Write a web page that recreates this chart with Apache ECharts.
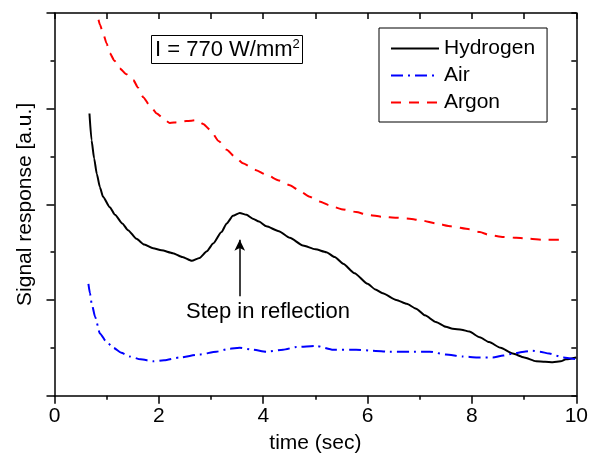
<!DOCTYPE html>
<html style="height: 100%">
<head>
    <meta charset="utf-8">
    <title>Signal response</title>
    <script src="https://cdn.jsdelivr.net/npm/echarts@6/dist/echarts.min.js"></script>
</head>
<body style="height: 100%; margin: 0">
<div id="main" style="width: 591px; height: 459px"></div>

<script type="text/javascript">
    // time (sec) / signal (a.u.) pairs
    var hydrogen = [
        [0.67, 2.95], [0.71, 2.67], [0.76, 2.48], [0.81, 2.32], [0.87, 2.18], [0.93, 2.08],
        [1.06, 1.97], [1.16, 1.89], [1.30, 1.80], [1.41, 1.73], [1.57, 1.64], [1.72, 1.58],
        [1.89, 1.54], [2.05, 1.52], [2.27, 1.49], [2.45, 1.45], [2.63, 1.41], [2.78, 1.44],
        [2.92, 1.51], [3.04, 1.59], [3.20, 1.71], [3.30, 1.80], [3.42, 1.88], [3.55, 1.91],
        [3.68, 1.89], [3.80, 1.85], [3.92, 1.82], [4.06, 1.77], [4.30, 1.72], [4.51, 1.65],
        [4.76, 1.57], [5.00, 1.53], [5.21, 1.50], [5.37, 1.45], [5.53, 1.38], [5.75, 1.28],
        [6.00, 1.17], [6.15, 1.11], [6.29, 1.07], [6.55, 1.00], [6.75, 0.96], [6.93, 0.91],
        [7.10, 0.84], [7.31, 0.77], [7.50, 0.72], [7.63, 0.70], [7.80, 0.69], [7.95, 0.67],
        [8.15, 0.61], [8.33, 0.56], [8.55, 0.50], [8.78, 0.44], [9.00, 0.40], [9.23, 0.36],
        [9.40, 0.355], [9.55, 0.35], [9.70, 0.36], [9.80, 0.38], [10.0, 0.40]
    ];
    var air = [
        [0.65, 1.17], [0.68, 1.07], [0.71, 0.97], [0.78, 0.82], [0.87, 0.65], [1.00, 0.56],
        [1.13, 0.50], [1.28, 0.45], [1.44, 0.41], [1.65, 0.38], [1.89, 0.36], [2.10, 0.37],
        [2.40, 0.40], [2.78, 0.43], [3.10, 0.46], [3.35, 0.49], [3.55, 0.50], [3.80, 0.48],
        [4.06, 0.46], [4.38, 0.48], [4.64, 0.51], [5.02, 0.52], [5.34, 0.48], [5.78, 0.48],
        [6.10, 0.47], [6.42, 0.46], [6.80, 0.46], [7.19, 0.46], [7.50, 0.43], [7.82, 0.41],
        [8.10, 0.40], [8.40, 0.40], [8.60, 0.42], [8.78, 0.44], [9.00, 0.46], [9.16, 0.47],
        [9.30, 0.46], [9.48, 0.44], [9.75, 0.40], [10.0, 0.38]
    ];
    var argon = [
        [0.72, 4.30], [0.81, 4.00], [0.87, 3.88], [0.93, 3.79], [1.00, 3.68], [1.06, 3.58],
        [1.15, 3.50], [1.25, 3.42], [1.38, 3.36], [1.51, 3.30], [1.60, 3.22], [1.70, 3.12],
        [1.83, 3.03], [1.96, 2.95], [2.10, 2.89], [2.21, 2.85], [2.37, 2.86], [2.53, 2.87],
        [2.72, 2.88], [2.85, 2.84], [2.98, 2.78], [3.15, 2.66], [3.30, 2.57], [3.45, 2.50],
        [3.61, 2.43], [3.85, 2.36], [4.06, 2.31], [4.30, 2.25], [4.51, 2.20], [4.70, 2.14],
        [4.89, 2.08], [5.08, 2.03], [5.27, 1.99], [5.50, 1.95], [5.78, 1.92], [6.00, 1.89],
        [6.29, 1.87], [6.55, 1.86], [6.80, 1.85], [7.05, 1.83], [7.31, 1.80], [7.60, 1.77],
        [7.95, 1.74], [8.15, 1.71], [8.33, 1.68], [8.60, 1.66], [8.85, 1.65], [9.10, 1.64],
        [9.35, 1.63], [9.74, 1.63]
    ];
    // arrow for the annotation (time, start signal, end signal)
    var arrowAt = [3.55, 1.04, 1.63];

    var font = 'Liberation Sans';
    var myChart = echarts.init(document.getElementById('main'));

    var option = {
        animation: false,
        textStyle: {fontFamily: font, color: '#000'},
        title: {
            text: '{a|I = 770 W/mm}{s|2}',
            left: 151,
            top: 35,
            padding: [3, 3, 3, 4],
            borderColor: '#000',
            borderWidth: 1,
            textStyle: {
                fontWeight: 'normal',
                rich: {
                    a: {fontFamily: font, fontSize: 22, fontWeight: 'normal', color: '#000', lineHeight: 24},
                    s: {fontFamily: font, fontSize: 13, fontWeight: 'normal', color: '#000', verticalAlign: 'top', lineHeight: 24}
                }
            }
        },
        legend: {
            orient: 'vertical',
            left: 379,
            top: 28,
            padding: [10, 12, 9, 11],
            itemWidth: 48,
            itemHeight: 14,
            itemGap: 6,
            borderColor: '#000',
            borderWidth: 1,
            itemStyle: {opacity: 0},
            textStyle: {fontFamily: font, fontSize: 21, color: '#000', lineHeight: 21},
            data: ['Hydrogen', 'Air', 'Argon']
        },
        grid: {left: 54.5, right: 13.7, top: 13, bottom: 63.3},
        xAxis: [
            {
                type: 'value', min: 0, max: 10, interval: 2,
                name: 'time (sec)', nameLocation: 'middle', nameGap: 37,
                nameTextStyle: {fontFamily: font, fontSize: 21, color: '#000'},
                axisLine: {lineStyle: {color: '#000', width: 1.5}},
                axisTick: {length: 8, lineStyle: {color: '#000', width: 1.5}},
                minorTick: {show: true, splitNumber: 2, length: 4, lineStyle: {color: '#000', width: 1.5}},
                axisLabel: {fontFamily: font, fontSize: 21, color: '#000', margin: 10},
                splitLine: {show: false}
            },
            {
                type: 'value', position: 'top', min: 0, max: 10, interval: 1,
                axisLine: {onZero: false, lineStyle: {color: '#000', width: 1.5}},
                axisTick: {inside: true, length: 6, lineStyle: {color: '#000', width: 1.5}},
                axisLabel: {show: false},
                splitLine: {show: false}
            }
        ],
        yAxis: [
            {
                type: 'value', min: 0, max: 4, interval: 1,
                name: 'Signal response [a.u.]', nameLocation: 'middle', nameGap: 19,
                nameTextStyle: {fontFamily: font, fontSize: 21, color: '#000'},
                axisLine: {show: true, lineStyle: {color: '#000', width: 1.5}},
                axisTick: {show: true, length: 8, lineStyle: {color: '#000', width: 1.5}},
                minorTick: {show: true, splitNumber: 2, length: 4, lineStyle: {color: '#000', width: 1.5}},
                axisLabel: {show: false},
                splitLine: {show: false}
            },
            {
                type: 'value', position: 'right', min: 0, max: 4, interval: 0.5,
                axisLine: {show: true, onZero: false, lineStyle: {color: '#000', width: 1.5}},
                axisTick: {show: true, inside: true, length: 5, lineStyle: {color: '#000', width: 1.5}},
                axisLabel: {show: false},
                splitLine: {show: false}
            }
        ],
        series: [
            {
                name: 'Hydrogen', type: 'line', data: hydrogen,
                symbol: 'none', smooth: 0.2, smoothMonotone: 'x',
                lineStyle: {color: '#000', width: 2},
                itemStyle: {color: '#000'},
                markLine: {
                    silent: true,
                    symbol: ['none', 'arrow'],
                    symbolSize: [8, 11],
                    label: {show: false},
                    lineStyle: {color: '#000', width: 1.5, type: 'solid'},
                    data: [[{coord: [arrowAt[0], arrowAt[1]]}, {coord: [arrowAt[0], arrowAt[2]]}]]
                }
            },
            {
                name: 'Air', type: 'line', data: air,
                symbol: 'none', smooth: 0.2, smoothMonotone: 'x',
                lineStyle: {color: '#0000ff', width: 2, type: [12, 5, 2, 5]},
                itemStyle: {color: '#0000ff'}
            },
            {
                name: 'Argon', type: 'line', data: argon,
                symbol: 'none', smooth: 0.2, smoothMonotone: 'x',
                lineStyle: {color: '#ff0000', width: 2, type: [10, 8]},
                itemStyle: {color: '#ff0000'}
            }
        ],
        graphic: [
            {
                type: 'text', left: 186, top: 301,
                style: {text: 'Step in reflection', fontFamily: font, fontSize: 22, fill: '#000'}
            }
        ]
    };
    myChart.setOption(option, true);
</script>
</body>
</html>
